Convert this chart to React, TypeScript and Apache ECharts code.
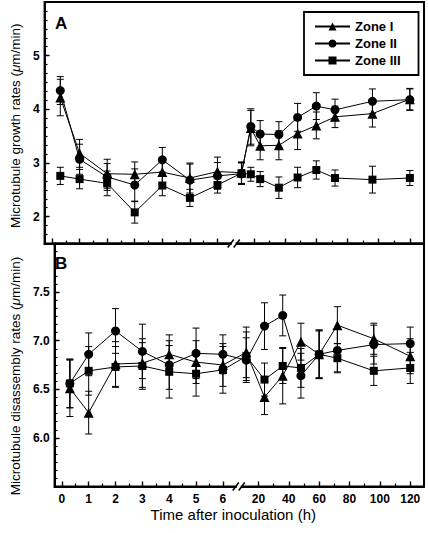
import React, { useEffect, useRef } from 'react';
import * as echarts from 'echarts';

// ---------- data ----------
const zoneNames = ['Zone I', 'Zone II', 'Zone III'];
const zoneSymbols = ['triangle', 'circle', 'rect'];
const zoneSymbolSizes = [10, 9, 8];

// time points (h)
const timesA = [0.3, 1, 2, 3, 4, 5, 6, 12, 18, 24, 36, 48, 60, 72, 96, 120];
const timesB = [0.3, 1, 2, 3, 4, 5, 6, 12, 24, 36, 48, 60, 72, 96, 120];

// Panel A: growth rates (um/min)
const growthZ1 = [4.22, 3.18, 2.80, 2.79, 2.83, 2.72, 2.84, 2.82, 3.65, 3.32, 3.33, 3.55, 3.70, 3.86, 3.92, 4.19];
const growthZ1Err = [0.34, 0.26, 0.27, 0.23, 0.2, 0.28, 0.27, 0.2, 0.33, 0.26, 0.27, 0.3, 0.25, 0.2, 0.25, 0.2];
const growthZ2 = [4.35, 3.07, 2.74, 2.59, 3.06, 2.68, 2.76, 2.80, 3.68, 3.54, 3.53, 3.85, 4.06, 3.99, 4.15, 4.18];
const growthZ2Err = [0.26, 0.28, 0.25, 0.3, 0.23, 0.3, 0.25, 0.2, 0.33, 0.25, 0.24, 0.26, 0.25, 0.2, 0.23, 0.2];
const growthZ3 = [2.76, 2.70, 2.62, 2.08, 2.58, 2.35, 2.59, 2.81, 2.79, 2.70, 2.54, 2.73, 2.87, 2.72, 2.69, 2.72];
const growthZ3Err = [0.16, 0.18, 0.23, 0.2, 0.19, 0.16, 0.15, 0.2, 0.13, 0.14, 0.2, 0.19, 0.17, 0.15, 0.25, 0.14];

// Panel B: disassembly rates (um/min)
const disZ1 = [6.51, 6.26, 6.76, 6.77, 6.86, 6.78, 6.75, 6.88, 6.42, 6.64, 6.99, 6.86, 7.16, 7.02, 6.84];
const disZ1Err = [0.29, 0.22, 0.23, 0.25, 0.2, 0.22, 0.22, 0.26, 0.18, 0.29, 0.19, 0.24, 0.19, 0.16, 0.18];
const disZ2 = [6.56, 6.86, 7.10, 6.89, 6.75, 6.87, 6.86, 6.80, 7.15, 7.26, 6.64, 6.86, 6.90, 6.96, 6.97];
const disZ2Err = [0.25, 0.22, 0.23, 0.28, 0.25, 0.26, 0.2, 0.23, 0.24, 0.21, 0.23, 0.25, 0.22, 0.2, 0.17];
const disZ3 = [6.56, 6.69, 6.73, 6.74, 6.68, 6.66, 6.70, 6.84, 6.60, 6.74, 6.72, 6.86, 6.82, 6.69, 6.72];
const disZ3Err = [0.25, 0.25, 0.21, 0.24, 0.27, 0.23, 0.24, 0.25, 0.17, 0.18, 0.2, 0.25, 0.15, 0.15, 0.16];

// axis tick labels
const xTickLeft = [0, 1, 2, 3, 4, 5, 6];
const xTickRight = [20, 40, 60, 80, 100, 120];
const xMinorLeft = [0.5, 1.5, 2.5, 3.5, 4.5, 5.5];
const xMinorRight = [30, 50, 70, 90, 110];
const yTicksA = [2, 3, 4, 5];
const yTicksB = [6.0, 6.5, 7.0, 7.5];

// ---------- broken time axis mapping ----------
const U20 = 7.323;
const SCALE_R = 0.05654;
const toU = (t: number) => (t <= 6 ? t : U20 + (t - 20) * SCALE_R);
const fromU = (u: number) => (u <= 6.5 ? Math.round(u) : Math.round(20 + (u - U20) / SCALE_R));
const U_MIN = -0.27;
const U_MAX = 13.49;
const U_BREAK = 6.59;

const FONT = '"Liberation Sans", Arial, Helvetica, sans-serif';

function minorList(min: number, max: number, step: number) {
  const out: number[] = [];
  const n = Math.round((max - min) / step);
  for (let i = 0; i <= n; i++) out.push(+(min + i * step).toFixed(4));
  return out;
}

function errRender(params: any, api: any) {
  const x = api.value(0);
  const y = api.value(1);
  const e = api.value(2);
  const top = api.coord([x, y + e]);
  const bot = api.coord([x, y - e]);
  const w = 3.5;
  const style = { stroke: '#000', lineWidth: 1 };
  return {
    type: 'group',
    children: [
      { type: 'line', shape: { x1: top[0], y1: top[1], x2: bot[0], y2: bot[1] }, style },
      { type: 'line', shape: { x1: top[0] - w, y1: top[1], x2: top[0] + w, y2: top[1] }, style },
      { type: 'line', shape: { x1: bot[0] - w, y1: bot[1], x2: bot[0] + w, y2: bot[1] }, style },
    ],
  };
}

function breakRender(params: any, api: any) {
  const p = api.coord([api.value(0), api.value(1)]);
  const st = { stroke: '#000', lineWidth: 1.6 };
  const slash = (dx: number) => ({
    type: 'line',
    shape: { x1: p[0] + dx - 3, y1: p[1] + 4, x2: p[0] + dx + 3, y2: p[1] - 4 },
    style: st,
  });
  return {
    type: 'group',
    children: [
      { type: 'rect', shape: { x: p[0] - 2, y: p[1] - 1.5, width: 4, height: 3 }, style: { fill: '#fff' } },
      slash(-3),
      slash(3),
    ],
  };
}

export default function App() {
  const ref = useRef<HTMLDivElement>(null);

  useEffect(() => {
    if (!ref.current) return;
    const chart = echarts.init(ref.current, null, { renderer: 'svg' });

    const majorU = [...xTickLeft, ...xTickRight].map(toU);
    const minorU = [...xMinorLeft, ...xMinorRight].map(toU);

    const xMajor = (grid: number, labels: boolean) => ({
      type: 'value',
      gridIndex: grid,
      min: U_MIN,
      max: U_MAX,
      position: 'bottom',
      axisLine: { show: true, onZero: false, lineStyle: { color: '#000', width: 2 } },
      axisTick: { show: true, inside: true, length: 5, customValues: majorU, lineStyle: { color: '#000', width: 1.4 } },
      axisLabel: labels
        ? {
            show: true,
            customValues: majorU,
            margin: 6,
            formatter: (v: number) => String(fromU(v)),
            color: '#000',
            fontFamily: FONT,
            fontWeight: 'bold',
            fontSize: 12,
          }
        : { show: false },
      splitLine: { show: false },
      name: labels ? 'Time after inoculation (h)' : '',
      nameLocation: 'middle',
      nameGap: 20,
      nameTextStyle: { color: '#000', fontFamily: FONT, fontSize: 15, padding: [0, 12, 0, 0] },
    });
    const xMinor = (grid: number) => ({
      type: 'value',
      gridIndex: grid,
      min: U_MIN,
      max: U_MAX,
      position: 'bottom',
      axisLine: { show: false, onZero: false },
      axisTick: { show: true, inside: true, length: 3, customValues: minorU, lineStyle: { color: '#000', width: 1.2 } },
      axisLabel: { show: false },
      splitLine: { show: false },
    });

    const yMajor = (grid: number, min: number, max: number, ticks: number[], name: string, dec: number, pad: number) => ({
      type: 'value',
      gridIndex: grid,
      min,
      max,
      position: 'left',
      axisLine: { show: true, onZero: false, lineStyle: { color: '#000', width: 2 } },
      axisTick: { show: true, inside: true, length: 5, customValues: ticks, lineStyle: { color: '#000', width: 1.4 } },
      axisLabel: {
        show: true,
        customValues: ticks,
        margin: 5,
        formatter: (v: number) => v.toFixed(dec),
        color: '#000',
        fontFamily: FONT,
        fontWeight: 'bold',
        fontSize: 12,
      },
      splitLine: { show: false },
      name,
      nameLocation: 'middle',
      nameGap: 22,
      nameTextStyle: {
        color: '#000',
        fontFamily: FONT,
        fontSize: 13.5,
        padding: [0, pad, 0, 0],
        rich: { i: { fontStyle: 'italic', fontFamily: FONT, fontSize: 13.5, color: '#000' } },
      },
    });
    const yMinor = (grid: number, min: number, max: number, step: number) => ({
      type: 'value',
      gridIndex: grid,
      min,
      max,
      position: 'left',
      offset: 0,
      axisLine: { show: false, onZero: false },
      axisTick: { show: true, inside: true, length: 3, customValues: minorList(min, max, step), lineStyle: { color: '#000', width: 1.2 } },
      axisLabel: { show: false },
      splitLine: { show: false },
    });

    const panels = [
      { grid: 0, xAxis: 0, yAxis: 0, times: timesA, vals: [growthZ1, growthZ2, growthZ3], errs: [growthZ1Err, growthZ2Err, growthZ3Err], ymin: 1.5 },
      { grid: 1, xAxis: 2, yAxis: 2, times: timesB, vals: [disZ1, disZ2, disZ3], errs: [disZ1Err, disZ2Err, disZ3Err], ymin: 5.5 },
    ];

    const series: any[] = [];
    panels.forEach((p) => {
      p.vals.forEach((vals, zi) => {
        series.push({
          type: 'custom',
          name: zoneNames[zi] + ' err',
          xAxisIndex: p.xAxis,
          yAxisIndex: p.yAxis,
          renderItem: errRender,
          encode: { x: 0, y: 1 },
          data: p.times.map((t, i) => [toU(t), vals[i], p.errs[zi][i]]),
          z: 1,
          clip: false,
          silent: true,
        });
      });
      p.vals.forEach((vals, zi) => {
        series.push({
          type: 'line',
          name: zoneNames[zi],
          xAxisIndex: p.xAxis,
          yAxisIndex: p.yAxis,
          data: p.times.map((t, i) => [toU(t), vals[i]]),
          symbol: zoneSymbols[zi],
          symbolSize: zoneSymbolSizes[zi],
          showSymbol: true,
          lineStyle: { color: '#000', width: 1 },
          itemStyle: { color: '#000' },
          z: 3,
        });
      });
      series.push({
        type: 'custom',
        name: 'break',
        xAxisIndex: p.xAxis,
        yAxisIndex: p.yAxis,
        renderItem: breakRender,
        encode: { x: 0, y: 1 },
        data: [[U_BREAK, p.ymin]],
        z: 5,
        clip: false,
        silent: true,
      });
    });

    chart.setOption({
      animation: false,
      backgroundColor: '#fff',
      color: ['#000', '#000', '#000'],
      textStyle: { fontFamily: FONT },
      grid: [
        { left: 43, right: 4, top: 2, height: 241.5, show: true, borderColor: '#000', borderWidth: 2, backgroundColor: 'transparent' },
        { left: 43, right: 4, top: 243.5, height: 243, show: true, borderColor: '#000', borderWidth: 2, backgroundColor: 'transparent' },
      ],
      xAxis: [xMajor(0, false), xMinor(0), xMajor(1, true), xMinor(1)],
      yAxis: [
        yMajor(0, 1.5, 6, yTicksA, 'Microtubule growth rates ({i|μ}m/min)', 0, 6),
        yMinor(0, 1.5, 6, 1 / 6),
        yMajor(1, 5.5, 8, yTicksB, 'Microtubule disassembly rates ({i|μ}m/min)', 1, 22),
        yMinor(1, 5.5, 8, 0.5 / 6),
      ],
      legend: {
        data: zoneNames,
        orient: 'vertical',
        left: 304,
        top: 12,
        itemWidth: 35,
        itemHeight: 10,
        itemGap: 4,
        padding: [8, 18, 8, 10],
        borderColor: '#000',
        borderWidth: 1.8,
        selectedMode: false,
        textStyle: { color: '#000', fontFamily: FONT, fontWeight: 'bold', fontSize: 13 },
      },
      graphic: [
        { type: 'text', left: 55, top: 15, style: { text: 'A', font: `bold 17px ${FONT}`, fill: '#000' } },
        { type: 'text', left: 55, top: 255, style: { text: 'B', font: `bold 17px ${FONT}`, fill: '#000' } },
      ],
      series,
    });

    return () => chart.dispose();
  }, []);

  return <div ref={ref} style={{ position: 'fixed', left: 0, top: 0, width: 428, height: 533 }} />;
}
